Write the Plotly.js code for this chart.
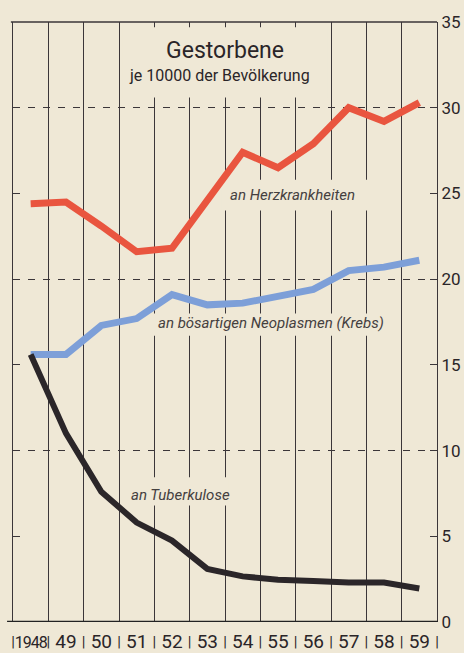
<!DOCTYPE html>
<html>
<head>
<meta charset="utf-8">
<script src="https://cdn.plot.ly/plotly-3.0.1.min.js"></script>
<style>
  html, body { margin: 0; padding: 0; background: #efe8d6; }
  #chart { width: 464px; height: 653px; }
</style>
</head>
<body>
<div id="chart"></div>
<script>
// ---- data ----
const years = [1948, 1949, 1950, 1951, 1952, 1953, 1954, 1955, 1956, 1957, 1958, 1959];
const yearLabels = ['<span style="font-size:16px;letter-spacing:-1px">1948</span>', '49', '50', '51', '52', '53', '54', '55', '56', '57', '58', '59'];
const herz   = [24.4, 24.5, 23.1, 21.6, 21.8, 24.6, 27.4, 26.5, 27.9, 30.0, 29.2, 30.3];
const krebs  = [15.6, 15.6, 17.3, 17.7, 19.1, 18.5, 18.6, 19.0, 19.4, 20.5, 20.7, 21.1];
const tbc    = [15.6, 11.0, 7.6, 5.8, 4.75, 3.1, 2.66, 2.47, 2.39, 2.3, 2.3, 1.95];
const yTicks = [0, 5, 10, 15, 20, 25, 30, 35];
const seriesNames = ['an Herzkrankheiten', 'an bösartigen Neoplasmen (Krebs)', 'an Tuberkulose'];

const BG = '#efe8d6';
const INK = '#3b3639';
const TXT = '#2a2528';
const FONT = 'Roboto, "DejaVu Sans", sans-serif';

const bounds = years.map(y => y - 0.5).concat([years[years.length - 1] + 0.5]);
const xRange = [bounds[0], bounds[bounds.length - 1]];

const traces = [
  { x: years, y: herz, xaxis: 'x', yaxis: 'y', mode: 'lines', name: seriesNames[0],
    line: { color: '#e9553f', width: 7 }, hoverinfo: 'skip' },
  { x: years, y: krebs, xaxis: 'x', yaxis: 'y', mode: 'lines', name: seriesNames[1],
    line: { color: '#7d9fd8', width: 7 }, hoverinfo: 'skip' },
  { x: years, y: tbc, xaxis: 'x2', yaxis: 'y2', mode: 'lines', name: seriesNames[2],
    line: { color: '#2b2629', width: 6 }, hoverinfo: 'skip' }
];

// background patches that interrupt the vertical grid around the texts
function gap(x0, x1, y0, y1) {
  return { type: 'rect', layer: 'between', xref: 'x', yref: 'y', x0, x1, y0, y1,
           fillcolor: BG, line: { width: 0 } };
}

const layout = {
  width: 464, height: 653,
  margin: { l: 13, r: 27, t: 22, b: 31, pad: 0 },
  paper_bgcolor: BG, plot_bgcolor: BG,
  showlegend: false,
  font: { family: FONT, color: TXT },
  title: { text: 'Gestorbene', x: 0.485, xref: 'container', xanchor: 'center',
           y: 0.923, yref: 'container', yanchor: 'middle',
           font: { family: FONT, size: 23, color: TXT } },
  xaxis: {
    range: xRange, tickmode: 'array', tickvals: bounds, ticktext: bounds.map(() => '|'),
    showgrid: true, gridcolor: INK, gridwidth: 1, zeroline: false, showline: false,
    ticks: '', ticklabelstandoff: 9, tickfont: { size: 15, color: TXT }, fixedrange: true
  },
  xaxis2: {
    range: xRange, overlaying: 'x', side: 'bottom', tickmode: 'array',
    tickvals: years, ticktext: yearLabels, showgrid: false, zeroline: false, showline: false,
    ticks: '', ticklabelstandoff: 6, tickfont: { size: 19, color: TXT }, fixedrange: true
  },
  yaxis: {
    range: [0, 35], tickmode: 'array', tickvals: [10, 20, 30], showticklabels: false,
    showgrid: true, gridcolor: INK, gridwidth: 1, griddash: '7px,8px',
    ticks: 'inside', ticklen: 7, tickcolor: INK, tickwidth: 1,
    minor: { tickmode: 'array', tickvals: [5, 15, 25], ticks: 'inside', ticklen: 7, tickcolor: INK, tickwidth: 1, showgrid: false },
    showline: true, linecolor: INK, linewidth: 1, zeroline: false, fixedrange: true
  },
  yaxis2: {
    range: [0, 35], overlaying: 'y', side: 'right', tickmode: 'array', tickvals: yTicks,
    ticktext: yTicks.map(String), showgrid: false, zeroline: false,
    ticks: 'inside', ticklen: 7, tickcolor: INK, tickwidth: 1,
    showline: true, linecolor: INK, linewidth: 1,
    tickfont: { size: 17, color: TXT }, fixedrange: true
  },
  shapes: [
    gap(1950.6, 1956.4, 30.6, 34.7),
    gap(1953.4, 1957.6, 24.0, 25.8),
    gap(1951.4, 1957.6, 16.7, 18.0),
    gap(1951.4, 1953.6, 6.8, 8.45),
    // top border
    { type: 'line', xref: 'paper', yref: 'paper', x0: -0.005, x1: 1, y0: 1, y1: 1,
      line: { color: INK, width: 1.3 } },
    // thick base line
    { type: 'line', xref: 'paper', yref: 'y', x0: -0.014, x1: 1.002, y0: 0, y1: 0,
      line: { color: '#222', width: 2.6 } }
  ],
  annotations: [
    { text: 'je 10000 der Bevölkerung', xref: 'paper', yref: 'paper', x: 0.4866, y: 0.911,
      xanchor: 'center', yanchor: 'middle', showarrow: false,
      font: { family: FONT, size: 16, color: TXT } },
    { text: '<i>' + seriesNames[0] + '</i>', xref: 'x', yref: 'y', x: 1955.42, y: 24.9,
      showarrow: false, xanchor: 'center', yanchor: 'middle',
      font: { family: FONT, size: 15, color: '#45403f' } },
    { text: '<i>' + seriesNames[1] + '</i>', xref: 'x', yref: 'y', x: 1954.8, y: 17.44,
      showarrow: false, xanchor: 'center', yanchor: 'middle',
      font: { family: FONT, size: 15, color: '#45403f' } },
    { text: '<i>' + seriesNames[2] + '</i>', xref: 'x', yref: 'y', x: 1952.24, y: 7.4,
      showarrow: false, xanchor: 'center', yanchor: 'middle',
      font: { family: FONT, size: 15, color: '#45403f' } }
  ]
};

Plotly.newPlot('chart', traces, layout, { staticPlot: true, displayModeBar: false });
</script>
</body>
</html>
